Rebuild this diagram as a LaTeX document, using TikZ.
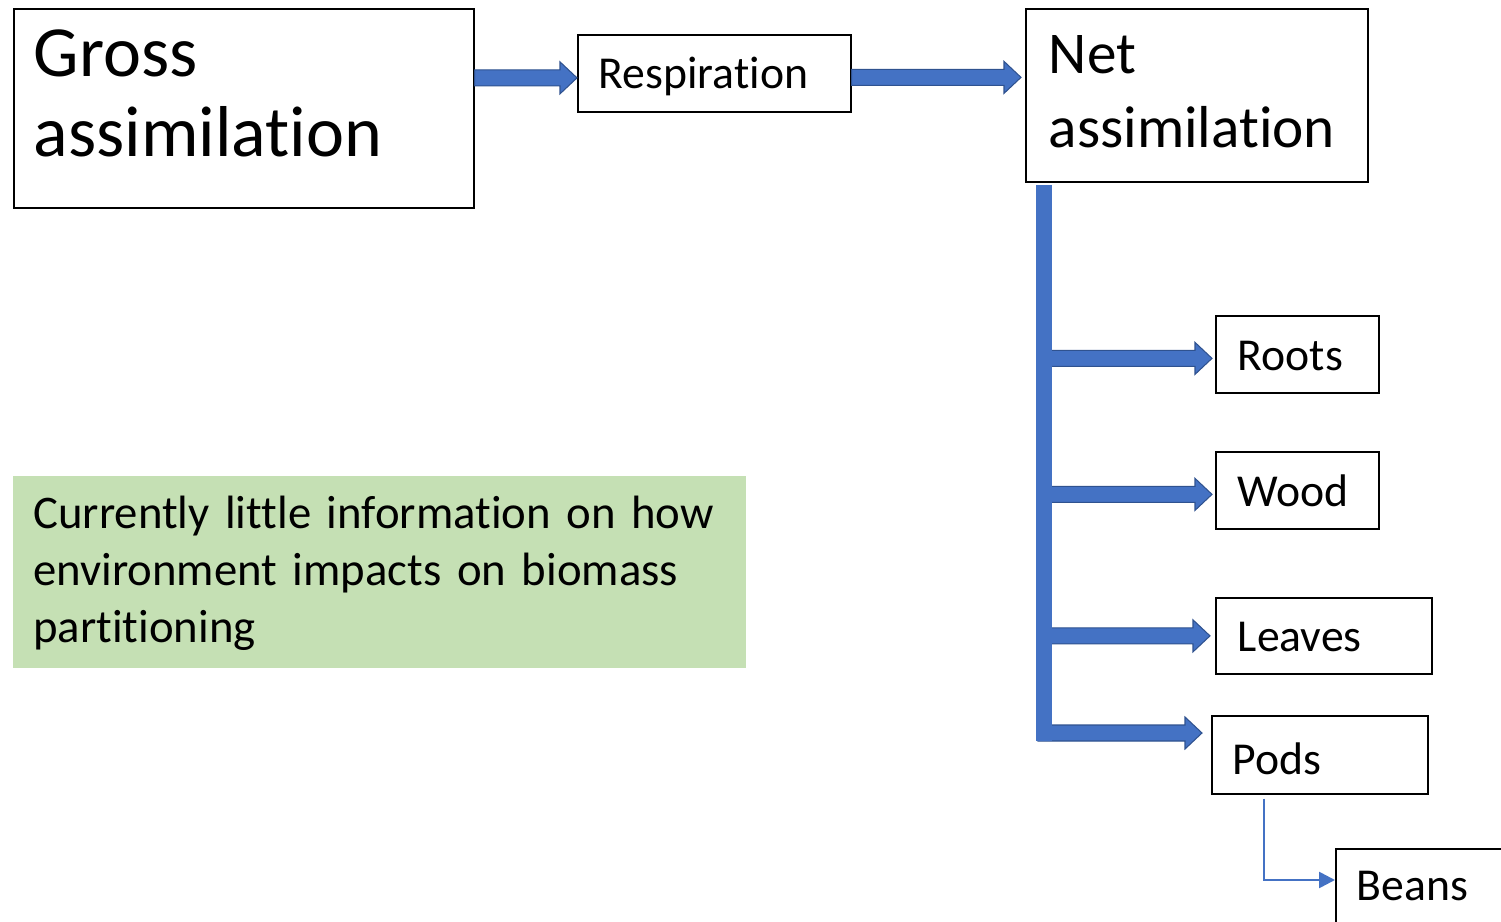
\documentclass[tikz,border=0pt]{standalone}
\usepackage{fontspec}
\setmainfont{Carlito}[RawFeature={-liga;-clig;-calt;-dlig;-rlig}]
\usetikzlibrary{calc,arrows.meta}
\definecolor{flowblue}{HTML}{4472C4}
\definecolor{flowedge}{HTML}{2F528F}
\definecolor{notegreen}{HTML}{C5E0B4}
\newcommand\blockarrow[2]{%
  \draw[fill=flowblue,draw=flowedge,line width=0.6pt,line join=miter]
    let \p1=(#1), \p2=(#2) in
    (\x1,\y2+0.16cm) -- (\x2-0.34cm,\y2+0.16cm) -- (\x2-0.34cm,\y2+0.32cm)
    -- (\x2,\y2) -- (\x2-0.34cm,\y2-0.32cm) -- (\x2-0.34cm,\y2-0.16cm)
    -- (\x1,\y2-0.16cm) -- cycle;}
\begin{document}
\begin{tikzpicture}[x=0.02cm,y=-0.02cm,
  box/.style={draw,line width=1pt,anchor=north west,inner ysep=0pt,align=left},
  smallbox/.style={box,font=\fontsize{26}{31}\selectfont,text height=1.1cm,text depth=0.44cm},
  thinarrow/.style={flowblue,line width=1.5pt,-{Triangle[length=0.32cm,width=0.32cm]}}]
\useasboundingbox (0,0) rectangle (1501,922);

\node[box,font=\fontsize{41}{45.4}\selectfont,inner xsep=0.4cm,text width=8.4cm,
  text height=1.36cm,text depth=2.62cm] (gross) at (13,8) {Gross\\assimilation};
\node[smallbox,inner xsep=0.42cm,text width=4.62cm,text height=1.08cm,text depth=0.46cm]
  (resp) at (577,34) {Respiration};
\node[box,font=\fontsize{33.7}{42}\selectfont,inner xsep=0.46cm,text width=5.92cm,
  text height=1.3cm,text depth=2.16cm] (net) at (1025,8) {Net\\assimilation};

\node[smallbox,inner xsep=0.44cm,text width=2.38cm] (roots) at (1215,315) {Roots};
\node[smallbox,inner xsep=0.44cm,text width=2.38cm] (wood) at (1215,451) {Wood};
\node[smallbox,inner xsep=0.44cm,text width=3.44cm,text height=1.08cm] (leaves) at (1215,597) {Leaves};
\node[smallbox,inner xsep=0.42cm,text width=3.48cm,text height=1.18cm,text depth=0.38cm]
  (pods) at (1211,715) {Pods};
\node[smallbox,inner xsep=0.42cm,text width=3cm,text height=1.04cm,text depth=0.8cm]
  (beans) at (1335,848) {Beans};

\node[anchor=north west,fill=notegreen,inner xsep=0.4cm,inner ysep=0pt,align=left,
  font=\fontsize{26.6}{32.6}\selectfont,text width=13.86cm,text height=1.04cm,text depth=2.8cm]
  (note) at (13,476) {Currently little information on how\\environment impacts on biomass\\partitioning};

\coordinate (trunktop) at (1044,185);
\coordinate (trunkbot) at (1044,741);
\coordinate (trunkR) at (1048,185);
\coordinate (trunkL) at (1038,185);

\blockarrow{gross.east}{[yshift=-0.09cm]resp.west}
\blockarrow{resp.east}{[shift={(-4,4)}]net.west |- resp.east}
\blockarrow{trunkR}{[shift={(-3,4)}]roots.west}
\blockarrow{trunkR}{[shift={(-3,4)}]wood.west}
\blockarrow{trunkR}{[shift={(-5,0)}]leaves.west}
\blockarrow{trunkL}{[shift={(-9,18)}]pods.north west}
\draw[flowblue,line width=0.32cm] (trunktop) -- (trunkbot);

\draw[thinarrow] ([shift={(53,4)}]pods.south west) |- ([yshift=-0.64cm]beans.north west);
\end{tikzpicture}
\end{document}
